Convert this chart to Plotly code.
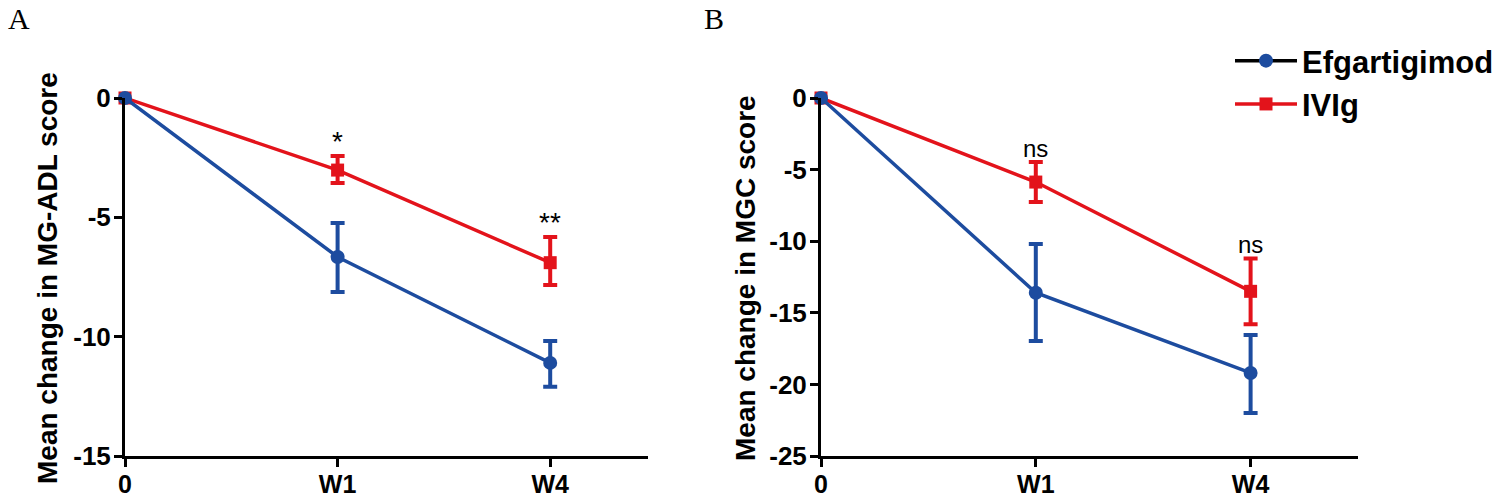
import plotly.graph_objects as go

W, H = 1499, 500

timepoints = ["0", "W1", "W4"]

# Panel A: MG-ADL
adl_efg = [0, -6.66, -11.1]
adl_efg_hi = [0, 1.42, 0.92]   # upward extent
adl_efg_lo = [0, 1.47, 1.0]    # downward extent
adl_ivig = [0, -3.02, -6.9]
adl_ivig_hi = [0, 0.59, 1.08]
adl_ivig_lo = [0, 0.54, 0.93]
adl_sig = ["", "*", "**"]
adl_ticks = [0, -5, -10, -15]
adl_ticklabels = ["0", "-5", "-10", "-15"]

# Panel B: MGC
mgc_efg = [0, -13.6, -19.2]
mgc_efg_hi = [0, 3.4, 2.65]
mgc_efg_lo = [0, 3.37, 2.8]
mgc_ivig = [0, -5.87, -13.5]
mgc_ivig_hi = [0, 1.4, 2.3]
mgc_ivig_lo = [0, 1.39, 2.3]
mgc_sig = ["", "ns", "ns"]
mgc_ticks = [0, -5, -10, -15, -20, -25]
mgc_ticklabels = ["0", "-5", "-10", "-15", "-20", "-25"]

BLUE = "#1D4C9F"
RED = "#E3131B"
FONT = "Arial, Liberation Sans, sans-serif"

fig = go.Figure()

def add_panel(xa, ya, efg, efg_hi, efg_lo, ivig, ivig_hi, ivig_lo):
    fig.add_trace(go.Scatter(
        x=timepoints, y=ivig, xaxis=xa, yaxis=ya, mode="lines+markers",
        line=dict(color=RED, width=3.5),
        marker=dict(symbol="square", size=13, color=RED),
        error_y=dict(type="data", array=ivig_hi, arrayminus=ivig_lo, symmetric=False,
                     color=RED, thickness=4, width=7),
        showlegend=False, cliponaxis=False))
    fig.add_trace(go.Scatter(
        x=timepoints, y=efg, xaxis=xa, yaxis=ya, mode="lines+markers",
        line=dict(color=BLUE, width=3.5),
        marker=dict(symbol="circle", size=14, color=BLUE),
        error_y=dict(type="data", array=efg_hi, arrayminus=efg_lo, symmetric=False,
                     color=BLUE, thickness=4, width=7),
        showlegend=False, cliponaxis=False))

add_panel("x", "y", adl_efg, adl_efg_hi, adl_efg_lo, adl_ivig, adl_ivig_hi, adl_ivig_lo)
add_panel("x2", "y2", mgc_efg, mgc_efg_hi, mgc_efg_lo, mgc_ivig, mgc_ivig_hi, mgc_ivig_lo)

# legend-only traces
fig.add_trace(go.Scatter(x=[None], y=[None], mode="lines+markers", name="Efgartigimod",
                         line=dict(color="black", width=3.5),
                         marker=dict(symbol="circle", size=14, color=BLUE)))
fig.add_trace(go.Scatter(x=[None], y=[None], mode="lines+markers", name="IVIg",
                         line=dict(color=RED, width=3.5),
                         marker=dict(symbol="square", size=13, color=RED)))

tickfont = dict(family=FONT, size=26, color="black", weight="bold")

def xaxis(domain, rng):
    return dict(domain=domain, type="category", categoryorder="array",
                categoryarray=timepoints, range=rng, showline=True, linewidth=3,
                linecolor="black", ticks="outside", ticklen=8, tickwidth=3,
                tickcolor="black", tickfont=dict(tickfont, size=25), showgrid=False,
                zeroline=False, fixedrange=True, automargin=False, ticklabelstandoff=-4)

def yaxis(anchor, rng, tv, tt):
    return dict(domain=[1 - 456 / H, 1 - 98 / H], anchor=anchor, range=rng,
                tickmode="array", tickvals=tv, ticktext=tt,
                showline=True, linewidth=3, linecolor="black", ticks="outside",
                ticklen=8, tickwidth=3, tickcolor="black", tickfont=tickfont,
                showgrid=False, zeroline=False, fixedrange=True, automargin=False,
                ticklabelstandoff=-2)

fig.update_layout(
    width=W, height=H,
    margin=dict(l=0, r=0, t=0, b=0, pad=0, autoexpand=False),
    paper_bgcolor="white", plot_bgcolor="white",
    xaxis=xaxis([125 / W, 648 / W], [0, 2.46]),
    yaxis=yaxis("x", [-15, 0], adl_ticks, adl_ticklabels),
    xaxis2=xaxis([821 / W, 1358 / W], [0, 2.5]),
    yaxis2=yaxis("x2", [-25, 0], mgc_ticks, mgc_ticklabels),
    legend=dict(x=1230 / W, y=1 - 34 / H, xanchor="left", yanchor="top",
                font=dict(family=FONT, size=31, color="black", weight="bold"),
                itemwidth=62, tracegroupgap=0, bgcolor="rgba(0,0,0,0)"),
)

ann = []
# y-axis titles
ann.append(dict(text="Mean change in MG-ADL score", textangle=-90, xref="paper", yref="paper",
                x=47 / W, y=1 - 278 / H, xanchor="center", yanchor="middle", showarrow=False,
                font=dict(family=FONT, size=28, color="black", weight="bold")))
ann.append(dict(text="Mean change in MGC score", textangle=-90, xref="paper", yref="paper",
                x=745 / W, y=1 - 278 / H, xanchor="center", yanchor="middle", showarrow=False,
                font=dict(family=FONT, size=28, color="black", weight="bold")))
# panel letters
ann.append(dict(text="A", xref="paper", yref="paper", x=19 / W, y=1 - 18 / H,
                xanchor="center", yanchor="middle", showarrow=False,
                font=dict(family="Liberation Serif, Times New Roman, serif", size=30, color="black")))
ann.append(dict(text="B", xref="paper", yref="paper", x=714 / W, y=1 - 18 / H,
                xanchor="center", yanchor="middle", showarrow=False,
                font=dict(family="Liberation Serif, Times New Roman, serif", size=30, color="black")))
# significance labels
for i, s in enumerate(adl_sig):
    if s:
        ann.append(dict(text=s, xref="x", yref="y", x=timepoints[i],
                        y=adl_ivig[i] + adl_ivig_hi[i], yshift=14, showarrow=False,
                        xanchor="center", yanchor="middle",
                        font=dict(family=FONT, size=28, color="black")))
for i, s in enumerate(mgc_sig):
    if s:
        ann.append(dict(text=s, xref="x2", yref="y2", x=timepoints[i],
                        y=mgc_ivig[i] + mgc_ivig_hi[i], yshift=14, showarrow=False,
                        xanchor="center", yanchor="middle",
                        font=dict(family=FONT, size=24, color="black")))
fig.update_layout(annotations=ann)

fig.write_html("out.html", config={"displayModeBar": False},
               post_script="document.body.style.margin='0';document.body.style.overflow='hidden';")
